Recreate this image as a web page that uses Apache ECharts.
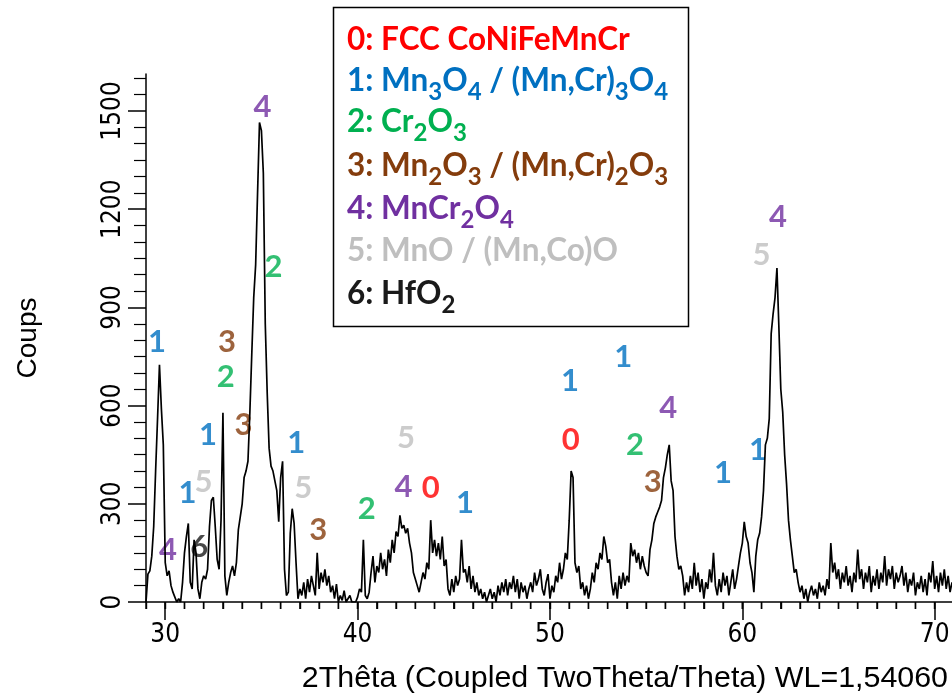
<!DOCTYPE html>
<html><head><meta charset="utf-8">
<script src="https://cdn.jsdelivr.net/npm/echarts@6/dist/echarts.min.js"></script>
<style>html,body{margin:0;padding:0;background:#fff}#c{width:952px;height:696px}</style>
</head><body><div id="c"></div>
<script>
// ---- data ----
const thetaStart = 29.0;
const thetaStep = 0.1;
const counts = [
  0, 85, 95, 140, 230, 400, 560, 725, 590, 480,
  120, 80, 95, 50, 30, 15, 0, 10, 0, 60,
  150, 200, 240, 60, 40, 190, 150, 40, 10, 60,
  80, 70, 100, 230, 310, 320, 230, 130, 100, 250,
  578, 80, 20, 60, 90, 110, 80, 120, 220, 260,
  300, 380, 400, 430, 580, 760, 930, 1030, 1250, 1465,
  1440, 1310, 850, 640, 470, 415, 400, 395, 340, 245,
  380, 430, 100, 20, 30, 210, 285, 240, 120, 10,
  40, 20, 60, 10, 70, 30, 80, 50, 20, 150,
  40, 90, 60, 100, 50, 80, 30, 50, 10, 55,
  0, 20, 5, 35, 0, 10, 20, 0, 5, 0,
  15, 40, 30, 190, 20, 10, 30, 90, 140, 60,
  110, 90, 150, 100, 130, 80, 160, 120, 190, 150,
  215, 200, 265, 225, 235, 210, 225, 180, 150, 90,
  70, 50, 30, 60, 90, 70, 120, 100, 250, 150,
  190, 140, 180, 130, 200, 110, 130, 40, 20, 70,
  30, 80, 50, 70, 190, 90, 100, 60, 110, 40,
  80, 30, 60, 20, 40, 10, 30, 0, 20, 40,
  10, 30, 0, 50, 20, 60, 30, 70, 20, 60,
  40, 80, 30, 70, 10, 60, 30, 50, 10, 40,
  60, 30, 90, 50, 70, 100, 40, 20, 60, 85,
  10, 50, 30, 80, 60, 120, 70, 100, 150, 130,
  250, 400, 380, 120, 90, 110, 40, 60, 20, 50,
  10, 40, 90, 60, 120, 100, 150, 130, 200, 170,
  120, 130, 60, 20, 60, 10, 80, 40, 90, 50,
  80, 60, 180, 140, 160, 120, 150, 100, 140, 110,
  90, 80, 160, 190, 240, 260, 275, 290, 310, 380,
  410, 450, 480, 370, 340, 200, 140, 100, 110, 80,
  20, 60, 30, 80, 40, 120, 50, 90, 30, 70,
  10, 60, 40, 100, 60, 150, 50, 20, 70, 30,
  90, 50, 80, 20, 60, 100, 40, 70, 110, 150,
  180, 245, 200, 180, 120, 90, 30, 140, 190, 210,
  260, 340, 480, 500, 560, 820, 880, 930, 1020, 840,
  650, 580, 450, 360, 250, 190, 140, 90, 100, 60,
  30, 50, 10, 40, 0, 30, 50, 20, 40, 10,
  60, 30, 50, 20, 70, 40, 180, 90, 120, 70,
  100, 40, 90, 60, 110, 50, 80, 30, 90, 60,
  160, 70, 100, 40, 90, 60, 110, 30, 80, 50,
  100, 40, 90, 60, 140, 50, 100, 70, 110, 40,
  90, 60, 80, 110, 50, 90, 30, 70, 50, 90,
  20, 60, 40, 80, 30, 70, 20, 90, 60, 125,
  40, 80, 30, 90, 50, 100, 40, 80, 30, 60
];
const xTickLabels = [30, 40, 50, 60, 70];
const yTickLabels = [0, 300, 600, 900, 1200, 1500];
const xMinorFrom = 29, xMinorTo = 70;   // minor ticks every 1 degree

// peak annotations: position (2theta, counts) and phase id
const annTheta  = [29.57, 30.14, 31.16, 31.99, 31.77, 32.22, 33.21, 33.15, 34.07, 35.05, 35.63, 36.81, 37.18, 37.96, 40.48, 42.52, 42.38, 43.80, 45.58, 51.04, 51.08, 53.81, 56.15, 54.42, 55.34, 59.00, 60.82, 61.00, 61.86];
const annCounts = [795, 159, 333, 368, 169, 510, 795, 688, 541, 1513, 1024, 486, 347, 220, 284, 500, 350, 347, 302, 675, 495, 749, 592, 480, 368, 395, 464, 1060, 1175];
const annPhase  = [1, 4, 1, 5, 6, 1, 3, 2, 3, 4, 2, 1, 5, 3, 2, 5, 4, 0, 1, 1, 0, 1, 4, 2, 3, 1, 1, 5, 4];

const phaseLegend = [
  '0: FCC CoNiFeMnCr',
  '1: Mn{s|3}O{s|4} / (Mn,Cr){s|3}O{s|4}',
  '2: Cr{s|2}O{s|3}',
  '3: Mn{s|2}O{s|3} / (Mn,Cr){s|2}O{s|3}',
  '4: MnCr{s|2}O{s|4}',
  '5: MnO / (Mn,Co)O',
  '6: HfO{s|2}'
];
const xTitle = '2Thêta (Coupled TwoTheta/Theta) WL=1,54060';
const yTitle = 'Coups';

// ---- styles ----
const phaseColors = ['#FF0000', '#0070C0', '#00B050', '#843C0C', '#7030A0', '#BFBFBF', '#1A1A1A'];
const tickFont = '"Liberation Sans Narrow", "DejaVu Sans Condensed", "Liberation Sans", sans-serif';
const boldFont = 'Lato, "Open Sans", sans-serif';
const minorTickLen = 7;

const lineData = counts.map((c, i) => [+(thetaStart + i * thetaStep).toFixed(2), c]);
const annData = annTheta.map((t, i) => ({
  value: [t, annCounts[i]],
  label: { color: phaseColors[annPhase[i]] }
}));
const xMinorTicks = [];
for (let v = xMinorFrom; v <= xMinorTo; v++) xMinorTicks.push(v);

const legendCenters = [40, 81, 122, 166, 209, 251, 294];
const graphic = [{
  type: 'rect', z: 10,
  shape: { x: 333.5, y: 7.5, width: 355, height: 319 },
  style: { fill: '#fff', stroke: '#000', lineWidth: 1.5 }
}, {
  type: 'text', z: 10, x: 948, y: 679,
  style: { text: xTitle, fill: '#000', fontSize: 30.4, fontFamily: '"Liberation Sans", Arial, sans-serif',
           align: 'right', verticalAlign: 'middle' }
}];
phaseLegend.forEach((txt, i) => {
  graphic.push({
    type: 'text', z: 11, x: 347, y: legendCenters[i] - 23,
    style: {
      text: txt, fill: phaseColors[i], fontSize: 31.5, fontWeight: 'bold', fontFamily: boldFont,
      lineHeight: 46, align: 'left', verticalAlign: 'top',
      rich: { s: { fontSize: 24, fontWeight: 'bold', fontFamily: boldFont, fill: phaseColors[i],
                   lineHeight: 23, verticalAlign: 'bottom' } }
    }
  });
});

const commonX = { type: 'value', min: 29, max: 70.9, interval: 1, gridIndex: 0, position: 'bottom', offset: 0 };

const chart = echarts.init(document.getElementById('c'));
chart.setOption({
  animation: false,
  grid: { left: 146, right: 0, top: 74, bottom: 94, outerBoundsMode: 'none' },
  xAxis: [Object.assign({}, commonX, {
    axisLine: { show: true, onZero: false, lineStyle: { color: '#000', width: 1.5 } },
    axisTick: { show: true, length: minorTickLen, customValues: xMinorTicks, lineStyle: { color: '#000', width: 1.4 } },
    axisLabel: { show: false }, splitLine: { show: false }
  }), Object.assign({}, commonX, {
    axisLine: { show: false, onZero: false },
    axisTick: { show: true, length: 18, customValues: xTickLabels, lineStyle: { color: '#000', width: 1.5 } },
    axisLabel: { show: true, customValues: xTickLabels, margin: 20, color: '#000', fontSize: 26,
                 fontFamily: tickFont, formatter: v => String(v) },
    splitLine: { show: false }
  })],
  yAxis: {
    type: 'value', min: 0, max: 1613, interval: 300,
    name: yTitle, nameLocation: 'middle', nameGap: 104, nameRotate: 90,
    nameTextStyle: { color: '#000', fontSize: 28, fontFamily: '"Liberation Sans", Arial, sans-serif' },
    axisLine: { show: true, onZero: false, lineStyle: { color: '#000', width: 1.5 } },
    axisTick: { show: true, length: 18, customValues: yTickLabels, lineStyle: { color: '#000', width: 1.5 } },
    minorTick: { show: true, splitNumber: 6, length: 12, lineStyle: { color: '#000', width: 1.2 } },
    axisLabel: { show: true, customValues: yTickLabels, rotate: 90, margin: 20, color: '#000', fontSize: 26,
                 fontFamily: tickFont, formatter: v => String(v) },
    splitLine: { show: false }, minorSplitLine: { show: false }
  },
  series: [{
    type: 'line', data: lineData, showSymbol: false, symbol: 'none', xAxisIndex: 0,
    lineStyle: { color: '#000', width: 1.7 }, silent: true
  }, {
    type: 'scatter', data: annData, symbolSize: 1, itemStyle: { color: 'rgba(0,0,0,0)' },
    silent: true, xAxisIndex: 0,
    label: { show: true, position: 'inside', fontSize: 31, fontWeight: 'bold', fontFamily: boldFont,
             formatter: p => String(annPhase[p.dataIndex]) }
  }, {
    // 1-degree minor ticks of the 2theta axis, placed through the axis scale
    type: 'custom', xAxisIndex: 0, silent: true, clip: false, z: 20,
    data: xMinorTicks.map(v => [v, 0]),
    encode: { x: 0, y: 1 },
    renderItem: (params, api) => {
      const p = api.coord([api.value(0), 0]);
      return {
        type: 'line',
        shape: { x1: p[0], y1: p[1], x2: p[0], y2: p[1] + minorTickLen },
        style: { stroke: '#000', lineWidth: 1.4 }
      };
    }
  }],
  graphic: graphic
});
</script></body></html>
